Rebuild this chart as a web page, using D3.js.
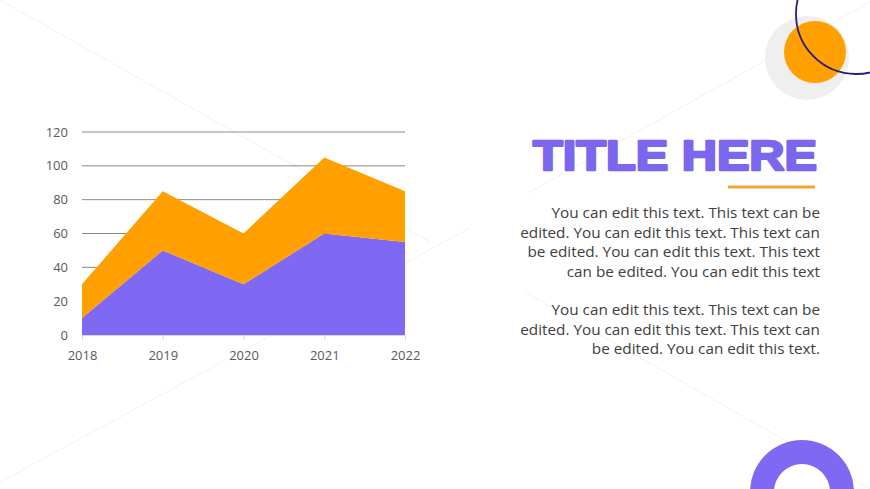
<!DOCTYPE html>
<html>
<head>
<meta charset="utf-8">
<script src="https://cdn.jsdelivr.net/npm/d3@7"></script>
<style>
  html, body { margin: 0; padding: 0; background: #fff; }
  svg { display: block; }
</style>
</head>
<body>
<svg id="slide"></svg>
<script>
var years = ["2018", "2019", "2020", "2021", "2022"];
var seriesA = [10, 50, 30, 60, 55];   // purple, bottom
var seriesB = [20, 35, 30, 45, 30];   // orange, stacked on top
var yTicks = [0, 20, 40, 60, 80, 100, 120];

var para1 = [
  "You can edit this text. This text can be",
  "edited. You can edit this text. This text can",
  "be edited. You can edit this text. This text",
  "can be edited. You can edit this text"
];
var para2 = [
  "You can edit this text. This text can be",
  "edited. You can edit this text. This text can",
  "be edited. You can edit this text."
];

var width = 870, height = 489;
var purple = "#8069f2", orange = "#ffa000";

var svg = d3.select("#slide").attr("width", width).attr("height", height);

// faint background strokes
var bgLines = [
  [[0, 0], [430, 242]],
  [[0, 482], [470, 228]],
  [[528, 193], [870, 2]],
  [[525, 292], [870, 489]]
];
svg.append("g")
  .selectAll("line")
  .data(bgLines)
  .join("line")
  .attr("x1", d => d[0][0]).attr("y1", d => d[0][1])
  .attr("x2", d => d[1][0]).attr("y2", d => d[1][1])
  .attr("stroke", "#f1f1f1")
  .attr("stroke-width", 1);

// decorations top right
svg.append("circle").attr("cx", 807).attr("cy", 58).attr("r", 42).attr("fill", "#efefef");
svg.append("circle").attr("cx", 815).attr("cy", 52).attr("r", 31).attr("fill", orange);
svg.append("circle").attr("cx", 856).attr("cy", 14).attr("r", 60)
  .attr("fill", "none").attr("stroke", "#2a1c80").attr("stroke-width", 1.8);

// ring bottom right
var ring = d3.arc().innerRadius(28).outerRadius(52).startAngle(0).endAngle(2 * Math.PI);
svg.append("path").attr("transform", "translate(802,492)").attr("d", ring()).attr("fill", purple);

// chart
var x = d3.scalePoint().domain(years).range([82, 405]);
var y = d3.scaleLinear().domain([0, 120]).range([335, 132]);

var rows = years.map((yr, i) => ({ year: yr, a: seriesA[i], b: seriesB[i] }));
var stack = d3.stack().keys(["a", "b"])(rows);

var chart = svg.append("g").attr("class", "chart");

chart.append("g")
  .selectAll("line")
  .data(yTicks.filter(t => t > 0))
  .join("line")
  .attr("x1", 82).attr("x2", 405)
  .attr("y1", d => y(d)).attr("y2", d => y(d))
  .attr("stroke", "#8a8a8a")
  .attr("stroke-width", 1);

var xAxis = chart.append("g")
  .attr("transform", "translate(0," + y(0) + ")")
  .call(d3.axisBottom(x).tickSize(5).tickPadding(11));
xAxis.select(".domain").attr("stroke", "#d9d9d9");
xAxis.selectAll(".tick line").attr("stroke", "#d9d9d9");
xAxis.selectAll("text")
  .attr("fill", "#595959")
  .style("font-family", "'Open Sans', sans-serif")
  .style("font-size", "13px");

var area = d3.area()
  .x(d => x(d.data.year))
  .y0(d => y(d[0]))
  .y1(d => y(d[1]));

chart.append("g")
  .selectAll("path")
  .data(stack)
  .join("path")
  .attr("d", area)
  .attr("fill", (d, i) => i === 0 ? purple : orange);

chart.append("g")
  .selectAll("text")
  .data(yTicks)
  .join("text")
  .attr("x", 68)
  .attr("y", d => y(d))
  .attr("dy", "0.35em")
  .attr("text-anchor", "end")
  .attr("fill", "#595959")
  .style("font-family", "'Open Sans', sans-serif")
  .style("font-size", "13px")
  .text(d => d);

// title
svg.append("text")
  .attr("x", 817).attr("y", 170)
  .attr("text-anchor", "end")
  .attr("textLength", 284)
  .attr("lengthAdjust", "spacingAndGlyphs")
  .attr("fill", "#7b66ee")
  .attr("stroke", "#7b66ee")
  .attr("stroke-width", 2.4)
  .attr("stroke-linejoin", "round")
  .style("font-family", "'Liberation Sans', Arial, sans-serif")
  .style("font-weight", "bold")
  .style("font-size", "42px")
  .text("TITLE HERE");

svg.append("line")
  .attr("x1", 728).attr("x2", 815)
  .attr("y1", 187).attr("y2", 187)
  .attr("stroke", "#f2a531").attr("stroke-width", 3);

function para(lines, top) {
  svg.append("g")
    .selectAll("text")
    .data(lines)
    .join("text")
    .attr("x", 820)
    .attr("y", (d, i) => top + i * 19.5)
    .attr("dy", "0.35em")
    .attr("text-anchor", "end")
    .attr("fill", "#404040")
    .style("font-family", "'Open Sans', sans-serif")
    .style("font-size", "15.3px")
    .text(d => d);
}
para(para1, 213);
para(para2, 310);
</script>
</body>
</html>
